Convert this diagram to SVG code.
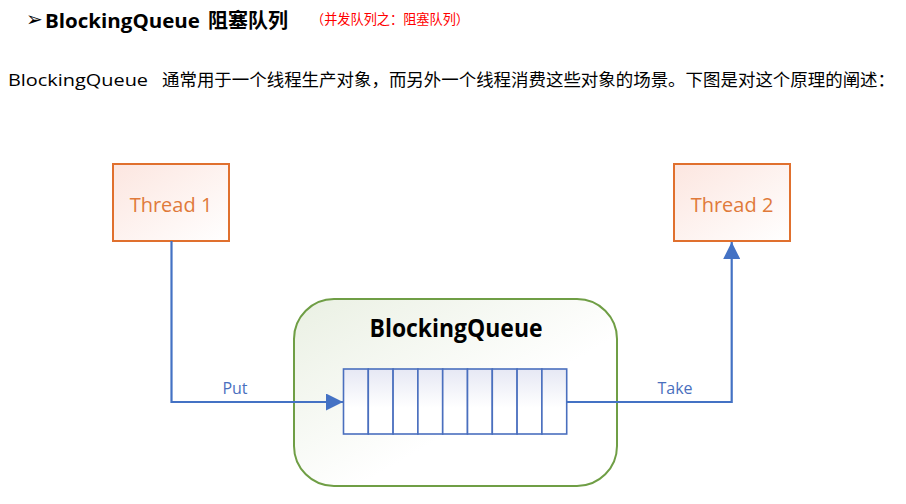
<svg xmlns="http://www.w3.org/2000/svg" width="906" height="504" viewBox="0 0 906 504">
<defs>
<style>
.thr{fill:url(#gThr);stroke:#E0702E;stroke-width:2}
.thrt{font-family:"Open Sans","Noto Sans",sans-serif;font-size:20px;fill:#E07A3A;text-anchor:middle}
.cell{fill:url(#gCell);stroke:#4A6FBE;stroke-width:1.6}
.con{fill:none;stroke:#4472C4;stroke-width:2.2}
.lbl{font-family:"Open Sans","Noto Sans",sans-serif;font-size:16px;fill:#4A6FBE;text-anchor:middle}
</style>
<linearGradient id="gThr" x1="0" y1="0" x2="1" y2="1">
<stop offset="0" stop-color="#FCE6E0"/><stop offset="1" stop-color="#FFFFFF"/>
</linearGradient>
<linearGradient id="gQ" x1="0" y1="0" x2="1" y2="1">
<stop offset="0" stop-color="#EAF0E3"/><stop offset="0.6" stop-color="#FFFFFF"/>
</linearGradient>
<linearGradient id="gCell" x1="0" y1="0" x2="0" y2="1">
<stop offset="0" stop-color="#E6E8F4"/><stop offset="0.6" stop-color="#FFFFFF"/>
</linearGradient>
<marker id="arr" viewBox="0 0 10 10" refX="10" refY="5" markerWidth="17" markerHeight="17" markerUnits="userSpaceOnUse" orient="auto">
<path d="M0,0 L10,5 L0,10 z" fill="#4472C4"/>
</marker>
</defs>
<rect width="906" height="504" fill="#FFFFFF"/>
<g id="header">
<text x="26" y="26" font-family="DejaVu Sans,sans-serif" font-size="20" font-weight="bold" fill="#000">➢</text>
<text x="45" y="28" font-family="'Open Sans','Noto Sans','Noto Sans CJK SC',sans-serif" font-size="20" font-weight="bold" fill="#000"><tspan textLength="155" lengthAdjust="spacingAndGlyphs">BlockingQueue</tspan><tspan x="208" font-family="'Noto Sans CJK SC',sans-serif">阻塞队列</tspan></text>
<text x="311" y="24" font-family="'Noto Sans CJK SC',sans-serif" font-size="13.5" fill="#FF0000" textLength="158" lengthAdjust="spacingAndGlyphs">（并发队列之：阻塞队列）</text>
<text x="8" y="86" font-family="'Open Sans','Noto Sans',sans-serif" font-size="17" fill="#000" textLength="140" lengthAdjust="spacingAndGlyphs">BlockingQueue</text>
<text x="162" y="86" font-family="'Noto Sans CJK SC',sans-serif" font-size="17" fill="#000" textLength="733" lengthAdjust="spacingAndGlyphs">通常用于一个线程生产对象，而另外一个线程消费这些对象的场景。下图是对这个原理的阐述：</text>
</g>
<g id="queue">
<rect x="294" y="299" width="323" height="187" rx="40" ry="40" fill="url(#gQ)" stroke="#6F9E45" stroke-width="2"/>
<text x="456" y="337" font-family="'Open Sans','Noto Sans',sans-serif" font-size="25" font-weight="bold" fill="#000" text-anchor="middle" textLength="173" lengthAdjust="spacingAndGlyphs">BlockingQueue</text>
<rect class="cell" x="343.5" y="369" width="24.8" height="65"/>
<rect class="cell" x="368.3" y="369" width="24.8" height="65"/>
<rect class="cell" x="393.1" y="369" width="24.8" height="65"/>
<rect class="cell" x="417.9" y="369" width="24.8" height="65"/>
<rect class="cell" x="442.7" y="369" width="24.8" height="65"/>
<rect class="cell" x="467.5" y="369" width="24.8" height="65"/>
<rect class="cell" x="492.3" y="369" width="24.8" height="65"/>
<rect class="cell" x="517.1" y="369" width="24.8" height="65"/>
<rect class="cell" x="541.9" y="369" width="24.8" height="65"/>
</g>
<g id="thread1">
<rect class="thr" x="113" y="164" width="116" height="77"/>
<text class="thrt" x="171" y="212">Thread 1</text>
</g>
<g id="thread2">
<rect class="thr" x="674" y="164" width="116" height="77"/>
<text class="thrt" x="732" y="212">Thread 2</text>
</g>
<g id="connectors">
<path class="con" d="M171.5,241 V402 H343" marker-end="url(#arr)"/>
<text class="lbl" x="235" y="394">Put</text>
<path class="con" d="M566.7,402 H731.7 V242" marker-end="url(#arr)"/>
<text class="lbl" x="675" y="394">Take</text>
</g>
</svg>
